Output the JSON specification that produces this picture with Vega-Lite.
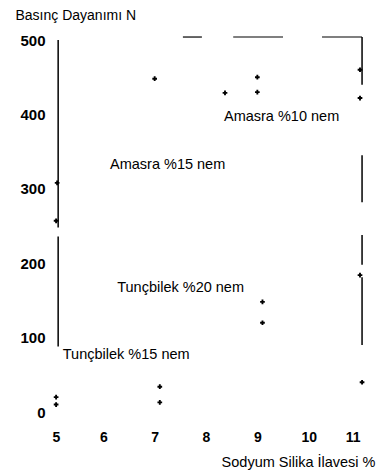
{
  "$schema": "https://vega.github.io/schema/vega-lite/v6.json",
  "autosize": "none",
  "width": 308,
  "height": 372,
  "padding": {"left": 52, "top": 40, "right": 16, "bottom": 60},
  "background": "white",
  "config": {
    "view": {"stroke": null},
    "font": "Liberation Sans"
  },
  "datasets": {
    "points": [
      {"x": 7, "y": 448},
      {"x": 9, "y": 450},
      {"x": 9, "y": 430},
      {"x": 8.37, "y": 429},
      {"x": 11, "y": 460},
      {"x": 11, "y": 422},
      {"x": 5.1, "y": 308},
      {"x": 5.08, "y": 257},
      {"x": 11, "y": 184},
      {"x": 9.1, "y": 148},
      {"x": 9.1, "y": 120},
      {"x": 5.08, "y": 20},
      {"x": 5.08, "y": 10},
      {"x": 7.1, "y": 34},
      {"x": 7.1, "y": 13},
      {"x": 11.04, "y": 40}
    ],
    "vlines": [
      {"x": 5.12, "y": 500, "y2": 248},
      {"x": 5.12, "y": 236, "y2": 88},
      {"x": 11.04, "y": 504, "y2": 440},
      {"x": 11.04, "y": 345, "y2": 282},
      {"x": 11.04, "y": 238, "y2": 198},
      {"x": 11.04, "y": 181, "y2": 90}
    ],
    "hlines": [
      {"x": 7.55, "x2": 7.92, "y": 504},
      {"x": 8.53, "x2": 9.5, "y": 504},
      {"x": 10.26, "x2": 11.04, "y": 504}
    ],
    "labels": [
      {"x": 8.35, "y": 396, "text": "Amasra %10 nem"},
      {"x": 6.13, "y": 332, "text": "Amasra %15 nem"},
      {"x": 6.27, "y": 167, "text": "Tunçbilek %20 nem"},
      {"x": 5.21, "y": 77, "text": "Tunçbilek %15 nem"}
    ]
  },
  "layer": [
    {
      "data": {"name": "vlines"},
      "mark": {"type": "rule", "color": "black", "strokeWidth": 1.5, "clip": false},
      "encoding": {
        "x": {
          "field": "x", "type": "quantitative",
          "scale": {"domain": [5, 11], "nice": false, "zero": false},
          "axis": {
            "title": "Sodyum Silika İlavesi %",
            "values": [5, 6, 7, 8, 9, 10, 11],
            "domain": false, "ticks": false, "grid": false,
            "labelFontSize": 14, "labelColor": "black", "labelPadding": 18,
            "labelFontWeight": "bold",
            "titleFontSize": 14.5, "titleFontWeight": "normal", "titleColor": "black",
            "titleAnchor": "end", "titleAlign": "right", "titleBaseline": "middle",
            "titleX": 323, "titleY": 50
          }
        },
        "y": {
          "field": "y", "type": "quantitative",
          "scale": {"domain": [0, 500], "nice": false},
          "axis": {
            "title": "Basınç Dayanımı N",
            "values": [0, 100, 200, 300, 400, 500],
            "domain": false, "ticks": false, "grid": false,
            "labelFontSize": 15, "labelColor": "black", "labelPadding": 7,
            "labelFontWeight": "bold",
            "titleFontSize": 14, "titleFontWeight": "normal", "titleColor": "black",
            "titleAngle": 0, "titleAlign": "left", "titleBaseline": "middle",
            "titleX": -37, "titleY": -25
          }
        },
        "y2": {"field": "y2"}
      }
    },
    {
      "data": {"name": "hlines"},
      "mark": {"type": "rule", "color": "black", "strokeWidth": 1.2, "clip": false},
      "encoding": {
        "x": {"field": "x", "type": "quantitative"},
        "x2": {"field": "x2"},
        "y": {"field": "y", "type": "quantitative"}
      }
    },
    {
      "data": {"name": "points"},
      "mark": {"type": "point", "shape": "cross", "filled": true, "color": "black", "size": 22, "opacity": 1, "clip": false},
      "encoding": {
        "x": {"field": "x", "type": "quantitative"},
        "y": {"field": "y", "type": "quantitative"}
      }
    },
    {
      "data": {"name": "labels"},
      "mark": {"type": "text", "align": "left", "baseline": "middle", "fontSize": 14.5, "color": "black"},
      "encoding": {
        "x": {"field": "x", "type": "quantitative"},
        "y": {"field": "y", "type": "quantitative"},
        "text": {"field": "text"}
      }
    }
  ]
}
